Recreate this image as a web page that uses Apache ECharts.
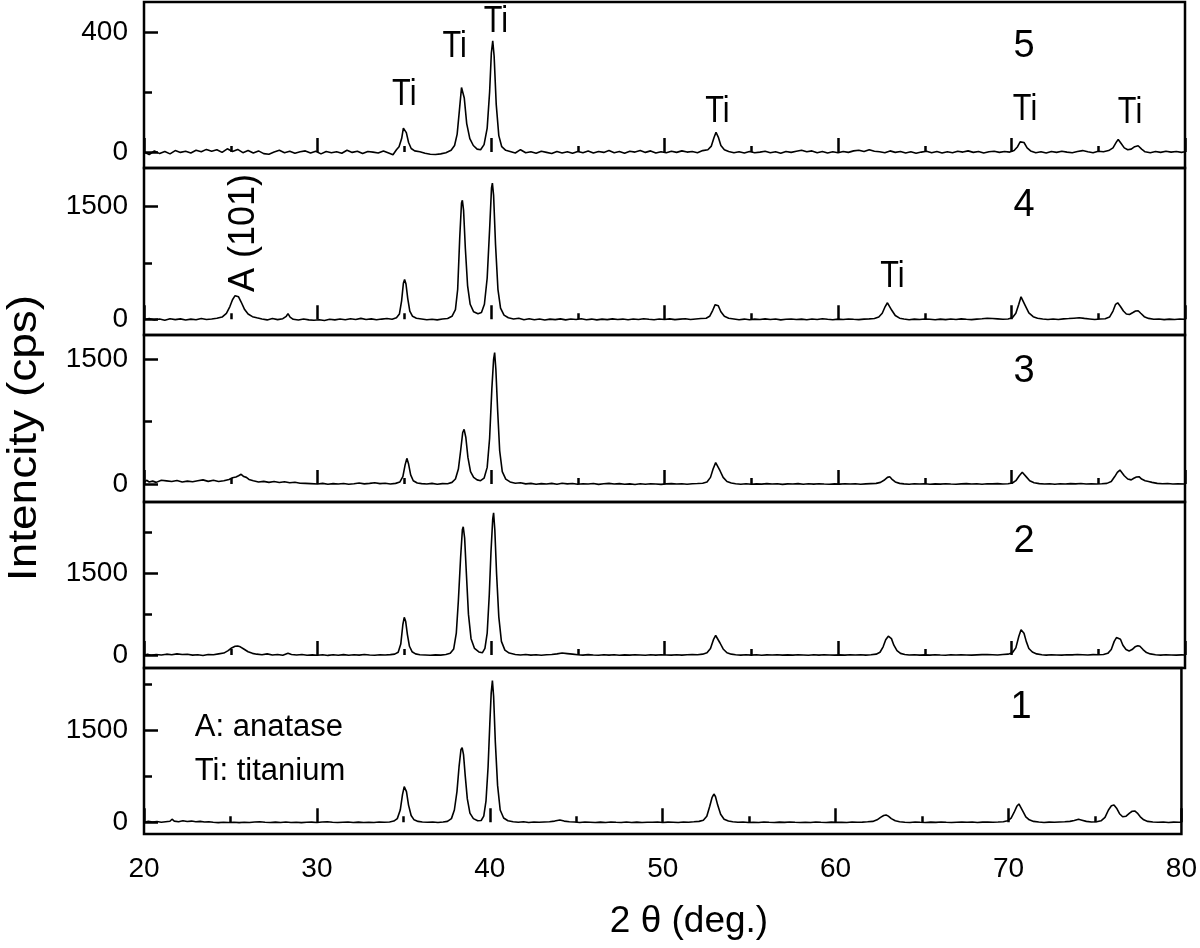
<!DOCTYPE html>
<html lang="en">
<head>
<meta charset="utf-8">
<title>XRD patterns 1-5</title>
<script src="https://cdn.jsdelivr.net/npm/echarts@6.0.0/dist/echarts.min.js"></script>
<style>
  html, body { margin: 0; background: #fff; }
  #chart { width: 1200px; height: 948px; }
</style>
</head>
<body>
<div id="chart"></div>
<script>
// 2theta range and per-panel intensity axes (panel order: top = sample 5 ... bottom = sample 1)
var xMin = 20, xMax = 80, xStep = 10;
var panelNames = ['5', '4', '3', '2', '1'];
var yMin = [-53, -209, -216, -239, -190];
var yMax = [500, 2015, 1792, 2809, 2509];
var yMajorTicks = [[0, 400], [0, 1500], [0, 1500], [0, 1500], [0, 1500]];
var yMinorTicks = [[200], [750], [750], [750, 2250], [750, 2250]];

// [2theta, cps]
var trace5 = [
  [20.0,0],[20.3,-8],[20.6,4],[20.9,-5],[21.2,2],[21.5,-6],[21.8,5],[22.1,-1],[22.4,3],[22.7,-3],[23.0,6],[23.3,1],[23.6,9],[23.9,3],[24.2,8],[24.5,-1],[24.8,11],[25.1,2],[25.4,9],[25.7,-2],[26.0,5],[26.3,-3],[26.6,4],[26.9,-5],[27.2,-7],[27.5,0],[27.8,6],[28.1,-2],[28.4,3],[28.7,-4],[29.0,1],[29.3,4],[29.6,-3],[29.9,3],[30.2,-6],[30.5,2],[30.8,-2],[31.1,1],[31.4,-4],[31.7,6],[32.0,-1],[32.3,3],[32.6,-5],[32.9,2],[33.2,0],[33.5,-3],[33.8,4],[34.1,-3],[34.35,-9],[34.55,8],[34.7,18],[34.85,45],[34.95,80],[35.02,84],[35.12,65],[35.25,32],[35.4,12],[35.6,4],[35.9,1],[36.2,-4],[36.5,-7],[36.8,-8],[37.1,-6],[37.4,-2],[37.7,6],[37.9,22],[38.05,60],[38.18,140],[38.3,215],[38.36,220],[38.46,180],[38.6,95],[38.78,45],[38.98,22],[39.2,10],[39.4,8],[39.6,25],[39.78,80],[39.92,200],[40.02,330],[40.1,371],[40.18,320],[40.3,160],[40.45,55],[40.62,18],[40.85,6],[41.1,2],[41.4,-3],[41.7,8],[42.0,-2],[42.3,1],[42.6,-4],[42.9,3],[43.2,-1],[43.5,-5],[43.8,2],[44.1,-3],[44.4,1],[44.7,-4],[45.0,2],[45.3,-2],[45.6,4],[45.9,-3],[46.2,2],[46.5,-1],[46.8,5],[47.1,-2],[47.4,2],[47.7,-4],[48.0,3],[48.3,0],[48.6,5],[48.9,-1],[49.2,4],[49.5,-3],[49.8,1],[50.1,-2],[50.4,3],[50.7,-1],[51.0,4],[51.3,0],[51.6,2],[51.9,-2],[52.2,5],[52.5,8],[52.7,20],[52.85,48],[52.97,66],[53.1,50],[53.25,22],[53.45,8],[53.7,2],[54.0,-2],[54.3,1],[54.6,-3],[54.9,2],[55.2,-2],[55.5,0],[55.8,3],[56.1,-2],[56.4,1],[56.7,-4],[57.0,2],[57.3,-1],[57.6,3],[57.9,6],[58.2,1],[58.5,4],[58.8,-2],[59.1,2],[59.4,-3],[59.7,1],[60.0,-2],[60.3,2],[60.6,-1],[60.9,4],[61.2,6],[61.5,2],[61.8,8],[62.1,3],[62.4,1],[62.7,-2],[63.0,4],[63.3,-1],[63.6,2],[63.9,-3],[64.2,1],[64.5,-4],[64.8,0],[65.1,3],[65.4,-2],[65.7,2],[66.0,-3],[66.3,1],[66.6,-2],[66.9,3],[67.2,0],[67.5,4],[67.8,-1],[68.1,2],[68.4,-3],[68.7,1],[69.0,3],[69.3,-1],[69.6,2],[69.9,0],[70.15,5],[70.35,18],[70.5,34],[70.6,38],[70.72,32],[70.9,14],[71.1,4],[71.4,-2],[71.7,1],[72.0,-3],[72.3,2],[72.6,-1],[72.9,3],[73.2,0],[73.5,-2],[73.8,2],[74.1,5],[74.4,1],[74.7,-2],[75.0,3],[75.3,1],[75.6,5],[75.85,14],[76.05,34],[76.15,42],[76.3,30],[76.5,14],[76.7,8],[76.9,10],[77.1,18],[77.3,21],[77.5,10],[77.7,1],[78.0,-2],[78.3,2],[78.6,-1],[78.9,3],[79.2,0],[79.5,2],[79.8,-1],[80.0,1]
];
var trace4 = [
  [20.0,-5],[20.3,10],[20.6,-8],[20.9,5],[21.2,-12],[21.5,8],[21.8,-4],[22.1,6],[22.4,-10],[22.7,2],[23.0,-6],[23.3,10],[23.6,-2],[23.9,5],[24.2,15],[24.5,30],[24.75,80],[24.95,170],[25.1,260],[25.25,315],[25.35,323],[25.45,300],[25.6,230],[25.8,130],[26.0,70],[26.25,35],[26.5,20],[26.8,5],[27.1,-8],[27.4,10],[27.7,-4],[28.0,8],[28.2,40],[28.3,75],[28.42,30],[28.6,0],[28.9,-10],[29.2,5],[29.5,-8],[29.8,-12],[30.1,-5],[30.4,-15],[30.7,0],[31.0,-8],[31.3,5],[31.6,-5],[31.9,8],[32.2,-3],[32.5,12],[32.8,-2],[33.1,6],[33.4,-6],[33.7,3],[34.0,10],[34.3,0],[34.55,20],[34.72,70],[34.85,250],[34.95,480],[35.02,531],[35.1,470],[35.2,280],[35.32,110],[35.48,40],[35.7,15],[36.0,5],[36.3,-5],[36.6,0],[36.9,-8],[37.2,5],[37.5,10],[37.75,40],[37.95,130],[38.08,400],[38.2,1100],[38.3,1550],[38.35,1584],[38.42,1450],[38.52,950],[38.65,450],[38.8,200],[39.0,100],[39.25,75],[39.45,90],[39.62,200],[39.78,550],[39.92,1200],[40.03,1750],[40.08,1814],[40.15,1650],[40.26,1000],[40.4,400],[40.55,150],[40.75,55],[41.0,20],[41.3,5],[41.6,15],[41.9,-5],[42.2,8],[42.5,-6],[42.8,4],[43.1,-10],[43.4,2],[43.7,-4],[44.0,6],[44.3,-8],[44.6,4],[44.9,-2],[45.2,8],[45.5,-5],[45.8,3],[46.1,-8],[46.4,2],[46.7,-4],[47.0,6],[47.3,-2],[47.6,3],[47.9,-6],[48.2,5],[48.5,-3],[48.8,8],[49.1,0],[49.4,-5],[49.7,4],[50.0,-2],[50.3,6],[50.6,-4],[50.9,2],[51.2,8],[51.5,-2],[51.8,5],[52.1,10],[52.4,15],[52.6,40],[52.78,120],[52.92,195],[53.0,210],[53.1,180],[53.25,100],[53.45,40],[53.7,15],[54.0,5],[54.3,-5],[54.6,3],[54.9,-6],[55.2,2],[55.5,-3],[55.8,6],[56.1,-2],[56.4,4],[56.7,-8],[57.0,0],[57.3,5],[57.6,-3],[57.9,2],[58.2,-6],[58.5,4],[58.8,-2],[59.1,8],[59.4,0],[59.7,-5],[60.0,3],[60.3,-2],[60.6,5],[60.9,0],[61.2,-4],[61.5,3],[61.8,6],[62.1,10],[62.35,30],[62.55,80],[62.72,170],[62.85,220],[62.95,200],[63.1,120],[63.3,50],[63.55,15],[63.8,5],[64.1,-5],[64.4,3],[64.7,-3],[65.0,5],[65.3,0],[65.6,-6],[65.9,2],[66.2,-4],[66.5,4],[66.8,-2],[67.1,6],[67.4,0],[67.7,-4],[68.0,3],[68.3,8],[68.6,14],[68.9,10],[69.2,6],[69.5,0],[69.8,5],[70.05,20],[70.25,80],[70.42,200],[70.55,300],[70.65,280],[70.8,180],[71.0,85],[71.25,35],[71.5,15],[71.8,5],[72.1,-3],[72.4,4],[72.7,-2],[73.0,6],[73.3,10],[73.6,15],[73.9,20],[74.2,12],[74.5,5],[74.8,-2],[75.1,4],[75.4,8],[75.65,30],[75.85,110],[76.0,200],[76.12,220],[76.28,170],[76.45,110],[76.62,70],[76.8,65],[77.0,90],[77.15,110],[77.3,114],[77.45,80],[77.65,35],[77.9,12],[78.2,0],[78.5,5],[78.8,-4],[79.1,3],[79.4,-2],[79.7,4],[80.0,0]
];
var trace3 = [
  [20.0,20],[20.15,45],[20.3,25],[20.5,35],[20.7,20],[21.0,45],[21.3,38],[21.6,30],[21.9,42],[22.2,25],[22.5,35],[22.8,28],[23.1,40],[23.4,50],[23.7,32],[24.0,45],[24.3,30],[24.6,40],[24.9,55],[25.1,75],[25.3,85],[25.45,100],[25.6,117],[25.75,90],[25.9,80],[26.05,55],[26.3,40],[26.6,25],[26.9,32],[27.2,20],[27.5,30],[27.8,18],[28.1,28],[28.4,15],[28.7,22],[29.0,10],[29.3,8],[29.6,5],[30.0,0],[30.3,8],[30.6,-2],[30.9,5],[31.2,0],[31.5,6],[31.8,-3],[32.1,4],[32.4,12],[32.7,2],[33.0,8],[33.3,15],[33.6,5],[33.9,10],[34.2,0],[34.5,8],[34.75,25],[34.92,90],[35.05,230],[35.15,309],[35.25,240],[35.37,110],[35.52,40],[35.75,12],[36.0,5],[36.3,0],[36.6,8],[36.9,-2],[37.2,5],[37.5,3],[37.75,20],[37.95,60],[38.12,180],[38.25,400],[38.37,620],[38.45,658],[38.55,560],[38.67,320],[38.82,150],[39.0,80],[39.2,50],[39.4,40],[39.6,70],[39.78,200],[39.92,550],[40.05,1150],[40.15,1500],[40.21,1580],[40.28,1380],[40.38,900],[40.5,400],[40.65,150],[40.85,60],[41.1,25],[41.4,10],[41.7,15],[42.0,2],[42.3,8],[42.6,-3],[42.9,5],[43.2,0],[43.5,8],[43.8,-2],[44.1,10],[44.4,2],[44.7,6],[45.0,-2],[45.3,4],[45.6,0],[45.9,6],[46.2,-4],[46.5,3],[46.8,8],[47.1,0],[47.4,5],[47.7,-3],[48.0,2],[48.3,-5],[48.6,3],[48.9,-2],[49.2,4],[49.5,0],[49.8,-4],[50.1,2],[50.4,5],[50.7,0],[51.0,3],[51.3,-2],[51.6,4],[51.9,6],[52.2,10],[52.45,25],[52.65,80],[52.8,180],[52.95,257],[53.05,240],[53.2,160],[53.38,80],[53.6,30],[53.85,12],[54.1,4],[54.4,-2],[54.7,3],[55.0,-3],[55.3,2],[55.6,-1],[55.9,5],[56.2,0],[56.5,3],[56.8,-4],[57.1,2],[57.4,0],[57.7,5],[58.0,-2],[58.3,3],[58.6,-1],[58.9,4],[59.2,0],[59.5,-3],[59.8,2],[60.1,-1],[60.4,3],[60.7,0],[61.0,4],[61.3,-2],[61.6,2],[61.9,5],[62.2,8],[62.45,20],[62.65,45],[62.85,80],[62.98,88],[63.1,60],[63.3,25],[63.55,8],[63.8,2],[64.1,-2],[64.4,3],[64.7,0],[65.0,4],[65.3,-2],[65.6,2],[65.9,-1],[66.2,4],[66.5,0],[66.8,-3],[67.1,2],[67.4,5],[67.7,0],[68.0,3],[68.3,-2],[68.6,4],[68.9,2],[69.2,5],[69.5,0],[69.8,4],[70.05,12],[70.25,40],[70.45,100],[70.62,141],[70.72,130],[70.88,80],[71.05,40],[71.3,15],[71.6,5],[71.9,0],[72.2,4],[72.5,-2],[72.8,3],[73.1,0],[73.4,5],[73.7,2],[74.0,6],[74.3,1],[74.6,4],[74.9,0],[75.2,3],[75.5,8],[75.75,30],[75.95,90],[76.1,140],[76.25,168],[76.35,150],[76.5,100],[76.7,60],[76.9,50],[77.05,70],[77.2,85],[77.35,88],[77.5,60],[77.7,40],[77.9,30],[78.1,20],[78.4,8],[78.7,4],[79.0,6],[79.3,0],[79.6,3],[80.0,0]
];
var trace2 = [
  [20.0,-10],[20.2,15],[20.4,-5],[20.7,10],[21.0,0],[21.3,15],[21.6,5],[21.9,20],[22.2,8],[22.5,12],[22.8,-2],[23.1,5],[23.4,-8],[23.7,10],[24.0,5],[24.3,20],[24.6,35],[24.85,80],[25.05,130],[25.25,160],[25.4,165],[25.55,150],[25.75,110],[26.0,60],[26.25,30],[26.5,15],[26.8,5],[27.1,20],[27.4,0],[27.7,10],[28.0,-5],[28.3,30],[28.5,10],[28.8,0],[29.1,8],[29.4,-6],[29.7,2],[30.0,-5],[30.3,5],[30.6,-8],[30.9,3],[31.2,-4],[31.5,6],[31.8,-5],[32.1,4],[32.4,-2],[32.7,8],[33.0,0],[33.3,-6],[33.6,5],[33.9,0],[34.2,6],[34.45,15],[34.65,50],[34.8,200],[34.92,560],[35.0,692],[35.08,620],[35.18,380],[35.3,160],[35.45,60],[35.65,20],[35.9,5],[36.2,0],[36.5,-5],[36.8,2],[37.1,-3],[37.4,8],[37.65,30],[37.85,110],[38.0,400],[38.12,1000],[38.25,1800],[38.35,2300],[38.4,2354],[38.48,2150],[38.58,1500],[38.7,750],[38.85,300],[39.05,120],[39.3,55],[39.5,40],[39.65,120],[39.78,400],[39.9,1100],[40.0,1900],[40.1,2500],[40.15,2611],[40.22,2300],[40.32,1500],[40.45,700],[40.6,250],[40.8,90],[41.05,35],[41.4,10],[41.7,0],[42.0,8],[42.3,-3],[42.6,5],[42.9,-5],[43.2,4],[43.5,10],[43.8,20],[44.1,35],[44.4,25],[44.7,15],[45.0,5],[45.3,-3],[45.6,6],[45.9,0],[46.2,-5],[46.5,3],[46.8,-2],[47.1,5],[47.4,-4],[47.7,2],[48.0,-3],[48.3,4],[48.6,0],[48.9,-5],[49.2,3],[49.5,-2],[49.8,5],[50.1,0],[50.4,-3],[50.7,4],[51.0,-2],[51.3,3],[51.6,8],[51.9,5],[52.2,15],[52.45,40],[52.65,120],[52.82,280],[52.95,358],[53.05,330],[53.2,220],[53.38,110],[53.6,40],[53.85,15],[54.1,5],[54.4,-3],[54.7,4],[55.0,-2],[55.3,3],[55.6,-4],[55.9,2],[56.2,0],[56.5,5],[56.8,-3],[57.1,2],[57.4,-2],[57.7,4],[58.0,0],[58.3,-4],[58.6,3],[58.9,-2],[59.2,5],[59.5,0],[59.8,-3],[60.1,2],[60.4,-2],[60.7,4],[61.0,0],[61.3,3],[61.6,-2],[61.9,5],[62.2,15],[62.42,50],[62.6,150],[62.75,280],[62.9,345],[62.98,349],[63.08,300],[63.22,180],[63.4,80],[63.6,30],[63.85,10],[64.1,0],[64.4,4],[64.7,-3],[65.0,2],[65.3,-2],[65.6,5],[65.9,0],[66.2,-4],[66.5,3],[66.8,-1],[67.1,4],[67.4,0],[67.7,-3],[68.0,2],[68.3,6],[68.6,10],[68.9,5],[69.2,0],[69.5,8],[69.8,15],[70.05,40],[70.25,130],[70.42,340],[70.55,465],[70.62,471],[70.72,400],[70.85,250],[71.0,120],[71.2,55],[71.45,20],[71.75,5],[72.0,-3],[72.3,4],[72.6,0],[72.9,-2],[73.2,5],[73.5,2],[73.8,8],[74.1,4],[74.4,0],[74.7,6],[75.0,3],[75.3,8],[75.55,30],[75.75,100],[75.92,250],[76.05,320],[76.16,336],[76.28,290],[76.42,180],[76.6,100],[76.78,75],[76.95,100],[77.12,150],[77.28,171],[77.4,160],[77.58,100],[77.78,45],[78.0,20],[78.3,5],[78.6,-2],[78.9,4],[79.2,0],[79.5,-3],[79.8,2],[80.0,0]
];
var trace1 = [
  [20.0,0],[20.25,15],[20.5,5],[20.75,12],[21.0,2],[21.25,10],[21.5,18],[21.62,50],[21.75,20],[22.0,10],[22.25,25],[22.5,12],[22.75,20],[23.0,8],[23.25,15],[23.5,5],[23.75,10],[24.0,0],[24.3,-5],[24.6,0],[24.9,-3],[25.2,0],[25.5,-5],[25.8,2],[26.1,-3],[26.4,4],[26.7,10],[27.0,2],[27.3,-4],[27.6,3],[27.9,-2],[28.2,5],[28.5,-3],[28.8,2],[29.1,-5],[29.4,0],[29.7,3],[30.0,-3],[30.3,5],[30.6,10],[30.9,0],[31.2,-4],[31.5,2],[31.8,6],[32.1,-2],[32.4,3],[32.7,-3],[33.0,2],[33.3,-2],[33.6,5],[33.9,0],[34.2,6],[34.45,20],[34.65,60],[34.82,200],[34.95,450],[35.05,580],[35.1,590],[35.18,500],[35.3,280],[35.45,110],[35.62,40],[35.85,15],[36.1,5],[36.4,0],[36.7,5],[37.0,-2],[37.3,4],[37.55,15],[37.78,60],[37.95,200],[38.1,500],[38.22,900],[38.33,1180],[38.4,1213],[38.48,1100],[38.58,750],[38.7,380],[38.85,150],[39.05,60],[39.3,25],[39.5,30],[39.65,100],[39.78,350],[39.9,900],[40.0,1600],[40.08,2100],[40.15,2303],[40.22,2050],[40.32,1300],[40.45,600],[40.6,200],[40.8,70],[41.05,25],[41.35,10],[41.65,2],[41.95,8],[42.25,-3],[42.55,5],[42.85,0],[43.15,6],[43.45,10],[43.75,20],[44.05,37],[44.3,20],[44.6,10],[44.9,5],[45.2,-2],[45.5,4],[45.8,0],[46.1,-4],[46.4,3],[46.7,-2],[47.0,5],[47.3,0],[47.6,-3],[47.9,4],[48.2,-2],[48.5,3],[48.8,-4],[49.1,2],[49.4,0],[49.7,5],[50.0,-2],[50.3,3],[50.6,0],[50.9,-3],[51.2,4],[51.5,2],[51.8,8],[52.1,15],[52.35,35],[52.55,100],[52.72,260],[52.85,400],[52.96,460],[53.05,420],[53.18,280],[53.35,130],[53.55,50],[53.8,20],[54.05,8],[54.35,0],[54.65,5],[54.95,-3],[55.25,2],[55.55,-2],[55.85,4],[56.15,0],[56.45,-3],[56.75,3],[57.05,-1],[57.35,4],[57.65,0],[57.95,-3],[58.25,2],[58.55,-2],[58.85,4],[59.15,0],[59.45,-3],[59.75,3],[60.05,-1],[60.35,2],[60.65,-3],[60.95,4],[61.25,0],[61.55,3],[61.85,8],[62.15,15],[62.4,40],[62.6,80],[62.78,110],[62.92,119],[63.05,100],[63.22,60],[63.45,25],[63.7,10],[64.0,2],[64.3,-3],[64.6,4],[64.9,0],[65.2,-2],[65.5,3],[65.8,-1],[66.1,4],[66.4,0],[66.7,-3],[67.0,2],[67.3,5],[67.6,0],[67.9,4],[68.2,-2],[68.5,3],[68.8,6],[69.1,2],[69.4,5],[69.7,10],[69.95,25],[70.15,70],[70.32,160],[70.48,260],[70.6,298],[70.7,270],[70.85,170],[71.0,90],[71.2,40],[71.45,15],[71.75,5],[72.05,-2],[72.35,3],[72.65,0],[72.95,4],[73.25,8],[73.55,15],[73.8,30],[74.05,49],[74.25,35],[74.5,15],[74.8,5],[75.1,10],[75.35,25],[75.58,80],[75.78,200],[75.95,270],[76.1,281],[76.25,230],[76.42,140],[76.6,90],[76.8,100],[77.0,150],[77.15,180],[77.3,184],[77.45,150],[77.62,90],[77.82,40],[78.05,15],[78.35,5],[78.65,0],[78.95,4],[79.25,-2],[79.55,3],[79.85,0],[80.0,2]
];
var traces = [trace5, trace4, trace3, trace2, trace1];

// text placed in data units of a panel: [panel, 2theta, cps, text]
var peakLabels = [
  [0, 35.0, 190, 'Ti'], [0, 37.9, 351, 'Ti'], [0, 40.28, 433, 'Ti'],
  [0, 53.05, 133, 'Ti'], [0, 70.78, 140, 'Ti'], [0, 76.83, 130, 'Ti'],
  [1, 63.14, 567, 'Ti']
];
var rotatedLabels = [[1, 25.76, 1149, 'A (101)']];
var sampleLabels = [[0, 70.72, 353], [1, 70.72, 1522], [2, 70.72, 1348], [3, 70.72, 2092], [4, 70.72, 1867]];
var legendLines = [[4, 22.94, 1550, 'A: anatase'], [4, 22.94, 834, 'Ti: titanium']];

var FONT = '"Liberation Sans", Arial, Helvetica, sans-serif';
var gridTop = [2, 168, 335, 502, 668];
var gridHeight = [166, 167, 167, 166, 166];

function plain(v) { return String(v); }

var grids = [], xAxes = [], yAxes = [], series = [];
for (var i = 0; i < 5; i++) {
  var last = i === 4;
  grids.push({
    left: 144, right: 15, top: gridTop[i], height: gridHeight[i],
    show: true, borderColor: '#000', borderWidth: 2.5, backgroundColor: 'transparent'
  });
  xAxes.push({
    type: 'value', gridIndex: i, min: xMin, max: xMax, interval: xStep,
    axisLine: { show: false },
    axisTick: { show: true, inside: true, length: 14, lineStyle: { color: '#000', width: 2.5 } },
    minorTick: { show: true, splitNumber: 2, length: 6, lineStyle: { color: '#000', width: 2.5 } },
    splitLine: { show: false },
    axisLabel: { show: last, color: '#000', fontSize: 28, fontFamily: FONT, margin: 21, formatter: plain }
  });
  yAxes.push({
    type: 'value', gridIndex: i, position: 'left', min: yMin[i], max: yMax[i],
    axisLine: { show: false },
    splitLine: { show: false },
    axisTick: { show: true, inside: true, length: 14, customValues: yMajorTicks[i], lineStyle: { color: '#000', width: 2.5 } },
    axisLabel: { show: true, customValues: yMajorTicks[i], color: '#000', fontSize: 28, fontFamily: FONT, margin: 16, formatter: plain }
  });
  yAxes.push({
    type: 'value', gridIndex: i, position: 'left', min: yMin[i], max: yMax[i],
    axisLine: { show: false },
    splitLine: { show: false },
    axisTick: { show: true, inside: true, length: 8, customValues: yMinorTicks[i], lineStyle: { color: '#000', width: 2.5 } },
    axisLabel: { show: false }
  });
  series.push({
    type: 'line', name: panelNames[i], xAxisIndex: i, yAxisIndex: 2 * i,
    data: traces[i], showSymbol: false, symbol: 'none',
    lineStyle: { color: '#000', width: 1.6 }, silent: true
  });
}

var chart = echarts.init(document.getElementById('chart'), null, { renderer: 'canvas' });
chart.setOption({
  animation: false,
  backgroundColor: '#fff',
  grid: grids, xAxis: xAxes, yAxis: yAxes, series: series
});

function px(p, x, y) { return chart.convertToPixel({ gridIndex: p }, [x, y]); }

var graphics = [];
peakLabels.forEach(function (d) {
  var pt = px(d[0], d[1], d[2]);
  graphics.push({ type: 'text', x: pt[0], y: pt[1], scaleX: 0.85, silent: true,
    style: { text: d[3], font: '36px ' + FONT, fill: '#000', textAlign: 'center', textVerticalAlign: 'middle' } });
});
rotatedLabels.forEach(function (d) {
  var pt = px(d[0], d[1], d[2]);
  graphics.push({ type: 'text', x: pt[0], y: pt[1], rotation: Math.PI / 2, silent: true,
    style: { text: d[3], font: '36px ' + FONT, fill: '#000', textAlign: 'center', textVerticalAlign: 'middle' } });
});
sampleLabels.forEach(function (d) {
  var pt = px(d[0], d[1], d[2]);
  graphics.push({ type: 'text', x: pt[0], y: pt[1], silent: true,
    style: { text: panelNames[d[0]], font: '38px ' + FONT, fill: '#000', textAlign: 'center', textVerticalAlign: 'middle' } });
});
legendLines.forEach(function (d) {
  var pt = px(d[0], d[1], d[2]);
  graphics.push({ type: 'text', x: pt[0], y: pt[1], silent: true,
    style: { text: d[3], font: '31px ' + FONT, fill: '#000', textAlign: 'left', textVerticalAlign: 'middle' } });
});
// axis titles
graphics.push({ type: 'text', x: 689, y: 922, silent: true,
  style: { text: '2 \u03b8 (deg.)', font: '37px ' + FONT, fill: '#000', textAlign: 'center', textVerticalAlign: 'middle' } });
graphics.push({ type: 'text', x: 25, y: 438, rotation: Math.PI / 2, scaleX: 1.15, silent: true,
  style: { text: 'Intencity (cps)', font: '40px ' + FONT, fill: '#000', textAlign: 'center', textVerticalAlign: 'middle' } });

chart.setOption({ graphic: { elements: graphics } });
window.addEventListener('resize', chart.resize);
</script>
</body>
</html>
